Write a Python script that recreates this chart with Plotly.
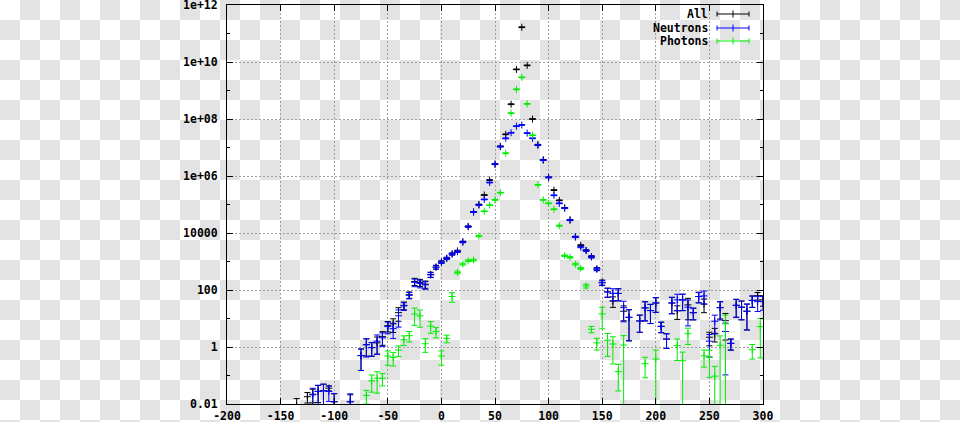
import plotly.graph_objects as go

# ---------------- data ----------------
all_x = [-135, -125, -120, -115, -110, -105, -100, -85, -75, -70, -65, -60, -55, -50, -45, -40,
         -35, -30, -25, -20, -15, -10, -5, 0, 5, 10, 15, 20, 25, 30, 35, 40, 45, 50, 55, 60,
         65, 70, 75, 80, 85, 90, 95, 100, 105, 110, 115, 120, 125, 130, 135, 140, 145, 150,
         155, 160, 165, 170, 175, 185, 190, 195, 200, 205, 210, 215, 220, 225, 230, 235, 240,
         245, 250, 255, 260, 265, 270, 275, 280, 285, 290, 295, 300]
all_y = [0.0085, 0.018, 0.022, 0.028, 0.029, 0.036, 0.012, 0.012, 0.5, 1.2, 0.95, 1.4, 2.3, 5.6, 6.5, 16,
         29, 68, 200, 185, 160, 350, 640, 960, 1300, 1850, 2350, 4900, 17000, 55000, 1.0e5, 2.15e5, 7.2e5, 2.6e6, 1.1e7, 2.9e7,
         3.3e8, 5.5e9, 1.66e11, 7.6e9, 1.0e8, 1.25e7, 3.7e6, 9.0e5, 3.2e5, 1.4e5, 7.6e4, 2.9e4, 7400, 3700, 2450, 1480, 550, 186,
         86, 41, 76, 18, 11, 8.2, 23.5, 19, 35, 5.3, 1.9, 35, 18.6, 45, 30, 16, 59,
         32, 2.2, 3.0, 24, 8.4, 1.34, 29, 25, 18, 43, 63, 45]
all_rel_err = [0.82, 0.4, 0.5, 0.6, 0.7, 0.2, 0.9, 0.75, 0.7, 0.6, 0.5, 0.6, 0.5, 0.4, 0.5, 0.5,
               0.3, 0.25, 0.28, 0.28, 0.28, 0.2, 0.15, 0.1, 0.08, 0.08, 0.06, 0.05, 0.04, 0.03, 0.03, 0.03, 0.03, 0.03, 0.03, 0.03,
               0.03, 0.03, 0.03, 0.03, 0.03, 0.03, 0.03, 0.03, 0.03, 0.03, 0.03, 0.03, 0.04, 0.05, 0.05, 0.08, 0.12, 0.2,
               0.35, 0.4, 0.45, 0.54, 0.85, 0.6, 0.65, 0.65, 0.53, 0.4, 0.53, 0.58, 0.5, 0.58, 0.7, 0.44, 0.4,
               0.5, 0.5, 0.5, 0.6, 0.79, 0.42, 0.62, 0.64, 0.78, 0.43, 0.3, 0.4]

neutron_x = [-120, -115, -110, -105, -100, -85, -75, -70, -65, -60, -55, -50, -45, -40, -35, -30,
             -25, -20, -15, -10, -5, 0, 5, 10, 15, 20, 25, 30, 35, 40, 45, 50, 55, 60, 65, 70,
             75, 80, 85, 90, 95, 100, 105, 110, 115, 120, 125, 130, 135, 140, 145, 150, 155, 160,
             165, 170, 175, 185, 190, 195, 200, 205, 210, 215, 220, 225, 230, 235, 240, 245, 250,
             255, 260, 265, 270, 275, 280, 285, 290, 295, 300]
neutron_y = [0.021, 0.0275, 0.029, 0.0275, 0.012, 0.012, 0.5, 1.2, 0.95, 1.6, 2.1, 5.2, 4.4, 12.5, 27.5, 65,
             186, 170, 151, 340, 630, 950, 1290, 1820, 2200, 4800, 16600, 54000, 95000, 1.5e5, 5.9e5, 2.6e6, 1.07e7, 2.1e7, 3.3e7, 5.6e7,
             6.2e7, 3.2e7, 2.1e7, 1.2e7, 3.6e6, 8.9e5, 2.1e5, 1.1e5, 7.4e4, 2.8e4, 7200, 3200, 2400, 1450, 540, 178, 85, 76,
             76, 24, 11, 8.2, 23.5, 19, 35, 5.3, 1.9, 35, 45, 45, 25, 16, 59, 62, 1.6,
             8, 24, 3.5, 1.34, 29, 25, 18, 43, 39, 39]
neutron_rel_err = [0.7, 0.65, 0.72, 0.55, 0.95, 0.9, 0.7, 0.63, 0.5, 0.65, 0.5, 0.44, 0.55, 0.6, 0.3, 0.25,
                   0.3, 0.3, 0.3, 0.2, 0.15, 0.1, 0.08, 0.08, 0.06, 0.05, 0.04, 0.03, 0.03, 0.03, 0.03, 0.03, 0.03, 0.03, 0.03, 0.03,
                   0.03, 0.03, 0.03, 0.03, 0.03, 0.03, 0.03, 0.03, 0.03, 0.03, 0.04, 0.05, 0.05, 0.08, 0.12, 0.2, 0.35, 0.45,
                   0.45, 0.68, 0.85, 0.6, 0.65, 0.65, 0.53, 0.4, 0.53, 0.58, 0.58, 0.58, 0.78, 0.44, 0.4, 0.48, 0.72,
                   0.64, 0.63, 0.97, 0.42, 0.62, 0.64, 0.78, 0.43, 0.55, 0.5]

photon_x = [-70, -65, -60, -55, -50, -45, -40, -35, -30, -25, -20, -15, -10, -5, 0, 5,
            10, 15, 20, 25, 30, 35, 40, 45, 50, 55, 60, 65, 70, 75, 80, 85,
            90, 95, 100, 105, 110, 115, 120, 125, 130, 135, 140, 145, 150, 155, 160, 165,
            170, 190, 200, 220, 225, 230, 245, 250, 255, 260, 265, 290, 297.5]
photon_y = [0.02, 0.065, 0.08, 0.08, 0.48, 0.43, 0.78, 1.8, 2.5, 14.4, 12.4, 1.3, 5.4, 3.5, 0.48, 2.0,
            59, 417, 813, 1070, 1120, 7800, 5.8e4, 9.5e4, 1.45e5, 2.6e5, 6.3e6, 1.6e8, 1.1e9, 2.9e9, 3.4e8, 2.7e7,
            4.9e5, 1.45e5, 1.1e5, 6.8e4, 1.8e4, 1600, 1400, 810, 575, 138, 4.2, 1.4, 14.5, 1.73, 1.27, 0.137,
            1.17, 0.26, 0.38, 1.12, 0.33, 2.9, 0.49, 0.43, 0.095, 1.15, 6.5, 0.8, 5.2]
photon_rel_err = [0.5, 0.6, 0.7, 0.46, 0.52, 0.5, 0.41, 0.37, 0.4, 0.6, 0.6, 0.5, 0.44, 0.4, 0.52, 0.3,
                  0.37, 0.1, 0.08, 0.07, 0.07, 0.05, 0.03, 0.03, 0.03, 0.03, 0.03, 0.03, 0.03, 0.03, 0.03, 0.03,
                  0.03, 0.03, 0.03, 0.03, 0.04, 0.06, 0.06, 0.07, 0.08, 0.15, 0.25, 0.44, 0.7, 0.73, 0.8, 0.79,
                  1.15, 0.68, 1.05, 0.7, 1.0, 0.58, 0.6, 0.8, 1.2, 1.13, 1.03, 0.53, 0.92]

x_tick_vals = [-200, -150, -100, -50, 0, 50, 100, 150, 200, 250, 300]
y_tick_vals = [0.01, 1, 100, 10000, 1e6, 1e8, 1e10, 1e12]
y_tick_text = ["0.01", "1", "100", "10000", "1e+06", "1e+08", "1e+10", "1e+12"]

series = [
    ("All", all_x, all_y, all_rel_err, "#000000"),
    ("Neutrons", neutron_x, neutron_y, neutron_rel_err, "#0000ff"),
    ("Photons", photon_x, photon_y, photon_rel_err, "#00ee00"),
]

# ---------------- layout geometry (pixels) ----------------
W, H = 960, 422
PLOT_L, PLOT_R, PLOT_T, PLOT_B = 227, 763, 5, 404
FONT = dict(family="DejaVu Sans Mono, Liberation Mono, monospace", size=11.5, color="#000000")
CHECK_GRAY = "#e3e3e3"


def fx(px):
    return px / W


def fy(py):
    return 1 - py / H


fig = go.Figure()

# checkerboard backdrop drawn as a filled scatter polygon on a full-figure subplot
SQ = 20
cx, cy = [], []
for j in range(H // SQ + 1):
    for i in range(W // SQ + 1):
        if (i + j) % 2 == 1:
            x0, y0 = i * SQ, j * SQ
            cx += [x0, x0 + SQ, x0 + SQ, x0, x0, None]
            cy += [y0, y0, y0 + SQ, y0 + SQ, y0, None]
fig.add_trace(go.Scatter(x=cx, y=cy, mode="lines", fill="toself", fillcolor=CHECK_GRAY,
                         line=dict(width=0, color=CHECK_GRAY), hoverinfo="skip",
                         xaxis="x", yaxis="y", showlegend=False))

for name, xs, ys, rel, col in series:
    err = [y * r for y, r in zip(ys, rel)]
    fig.add_trace(go.Scatter(
        x=xs, y=ys, name=name, mode="markers", showlegend=False, xaxis="x2", yaxis="y2",
        marker=dict(symbol="cross-thin", size=5, color=col, line=dict(color=col, width=1)),
        error_y=dict(type="data", array=err, arrayminus=err, symmetric=False,
                     color=col, thickness=1, width=3),
    ))

# custom gnuplot-style legend (text, then error-bar sample)
shapes, annotations = [], []
leg_rows = [14, 28, 41]
for (name, _, _, _, col), py in zip(series, leg_rows):
    annotations.append(dict(text="<b>%s</b>" % name, x=fx(710), y=fy(py),
                            xref="paper", yref="paper", xanchor="right", yanchor="middle",
                            showarrow=False, font=FONT))
    shapes.append(dict(type="line", xref="paper", yref="paper", x0=fx(717), x1=fx(749),
                       y0=fy(py), y1=fy(py), line=dict(color=col, width=1)))
    for lx, hh in [(717, 2.5), (749, 2.5), (733, 3.5)]:
        shapes.append(dict(type="line", xref="paper", yref="paper", x0=fx(lx), x1=fx(lx),
                           y0=fy(py - hh), y1=fy(py + hh), line=dict(color=col, width=1)))

axis_common = dict(showline=True, linecolor="#000000", linewidth=1, mirror="allticks",
                   ticks="inside", ticklen=6, tickcolor="#000000", tickwidth=1,
                   showgrid=True, gridcolor="#a0a0a0", gridwidth=1, griddash="2px,2px",
                   zeroline=False, tickfont=FONT, ticklabeloverflow="allow")

fig.update_layout(
    width=W, height=H,
    margin=dict(l=0, r=0, t=0, b=0, autoexpand=False),
    paper_bgcolor="#ffffff", plot_bgcolor="rgba(0,0,0,0)",
    font=FONT, showlegend=False,
    annotations=annotations, shapes=shapes,
    xaxis=dict(domain=[0, 1], range=[0, W], visible=False, fixedrange=True),
    yaxis=dict(domain=[0, 1], range=[H, 0], visible=False, fixedrange=True),
    xaxis2=dict(domain=[fx(PLOT_L), fx(PLOT_R)], anchor="y2", range=[-200, 300],
                tickvals=x_tick_vals, ticktext=["<b>%s</b>" % v for v in x_tick_vals],
                ticklabelstandoff=1, **axis_common),
    yaxis2=dict(domain=[fy(PLOT_B), fy(PLOT_T)], anchor="x2", type="log", range=[-2, 12],
                tickvals=y_tick_vals, ticktext=["<b>%s</b>" % t for t in y_tick_text],
                minor=dict(dtick=1, ticks="inside", ticklen=3, tickcolor="#000000", showgrid=False),
                ticklabelstandoff=6, **axis_common),
)

fig.write_html("out.html")
